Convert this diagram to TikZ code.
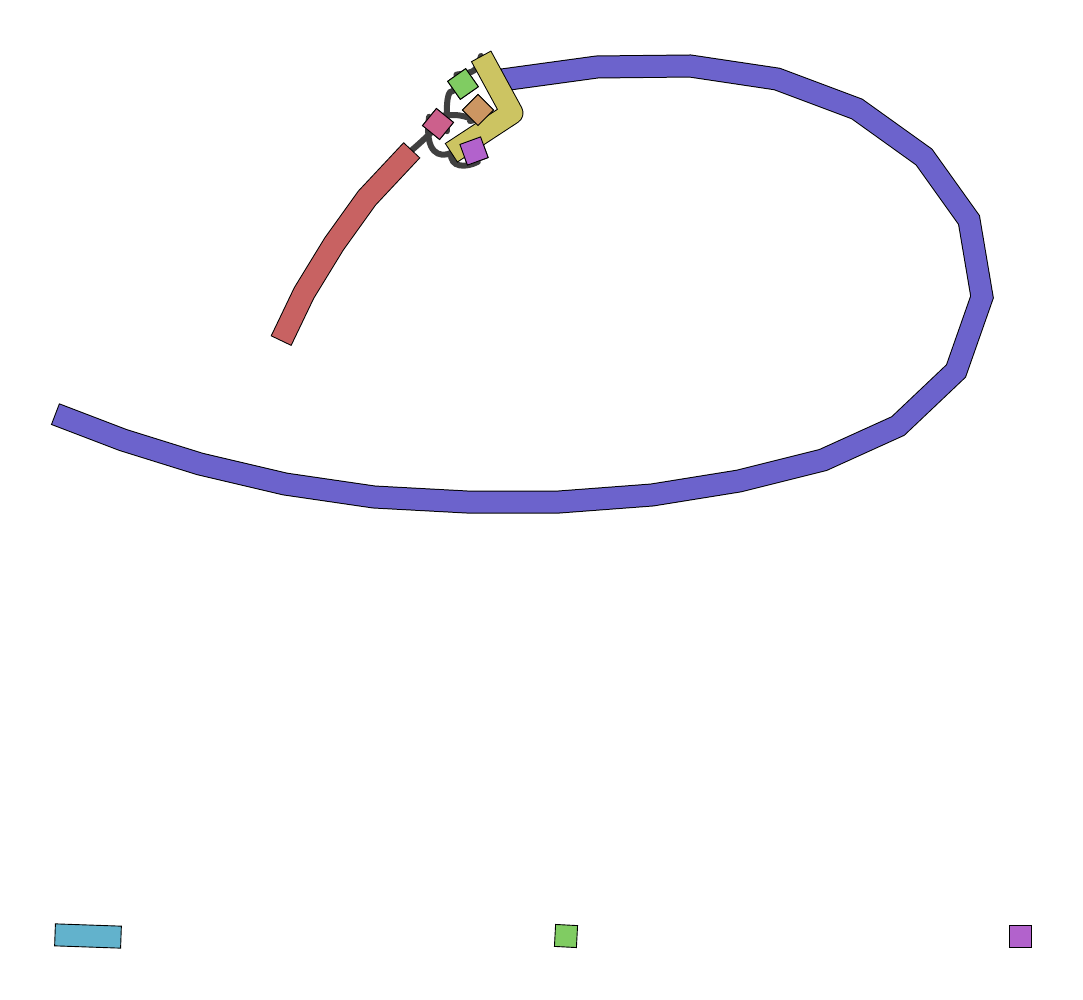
\documentclass[tikz,border=0pt]{standalone}
\usetikzlibrary{positioning}
\definecolor{cblue}{HTML}{6C63CC}
\definecolor{cred}{HTML}{C86262}
\definecolor{cyellow}{HTML}{CCC462}
\definecolor{cgreen}{HTML}{80CC62}
\definecolor{corange}{HTML}{CC9662}
\definecolor{cpink}{HTML}{CC608C}
\definecolor{cpurple}{HTML}{B262CC}
\definecolor{ccyan}{HTML}{62B2CC}
\definecolor{clink}{HTML}{404040}
\tikzset{
  every picture/.style={x=1pt, y=-1pt},
  piece/.style={draw=black, fill=#1, line width=0.9pt, inner sep=0pt, minimum size=22pt},
  link/.style={draw=clink, line width=6pt, line cap=round},
}
% a contig: black outline under a coloured band
\newcommand{\contig}[3]{%
  \draw[line width=23pt, black, line join=#3] #2;
  \draw[line width=21pt, #1, line join=#3, shorten <=1pt, shorten >=1pt] #2;
}

\begin{document}
\begin{tikzpicture}
  \useasboundingbox (0,0) rectangle (1083,1000);
  % ---------- ends of the long contigs ----------
  \coordinate (r1) at (412,150);
  \coordinate (r2) at (281,341);
  \coordinate (y1) at (481,56);
  \coordinate (y2) at (451,153);
  % ---------- small pieces ----------
  \node[piece=cgreen, rotate=35] (g) at (463,84) {};
  \node[piece=corange, rotate=45] (o) at (478,110) {};
  \node[piece=cpink, rotate=-39] (p) at (438,124) {};
  \node[piece=cpurple, rotate=20] (v) at (474,151) {};
  % ---------- links ----------
  \draw[link] (r1) .. controls (420,143) .. (p.south);
  \draw[link] (p.east) .. controls (446,96) and (448,91) .. (g.west);
  \draw[link] (g.north) .. controls (476,72) .. (y1);
  \draw[link] (p.north) .. controls (460,115) .. (o.west);
  \draw[link] (o.south) -- (470,121);
  \draw[link] (p.west) .. controls (424,154) and (440,158) .. (y2);
  \draw[link] (y2) .. controls (450,168) and (466,168) .. (v.south);
  % ---------- long contigs ----------
  \contig{cblue}{(55,414) -- (123,440) -- (200,464) -- (285,484) -- (374,497)
    -- (467,502) -- (559,502) -- (652,495) -- (739,481) -- (823,460) -- (898,426)
    -- (956,371) -- (982,297) -- (969,220) -- (924,157) -- (857,109) -- (777,79)
    -- (690,66) -- (597,67) -- (502,80)}{miter}
  \contig{cred}{(r1) -- (367,198) -- (334,244) -- (304,293) -- (r2)}{miter}
  \contig{cyellow}{(y1) -- (512,113) -- (y2)}{round}
  % redraw pieces on top
  \node[piece=cgreen, rotate=35] at (g) {};
  \node[piece=corange, rotate=45] at (o) {};
  \node[piece=cpink, rotate=-39] at (p) {};
  \node[piece=cpurple, rotate=20] at (v) {};
  % ---------- single pieces at the foot ----------
  \node[piece=ccyan, minimum width=66pt, rotate=-2] (c) at (88,936) {};
  \node[piece=cgreen, rotate=-3] (g2) at (566,936) {};
  \node[piece=cpurple] (v2) at (1020,936) {};
\end{tikzpicture}
\end{document}
